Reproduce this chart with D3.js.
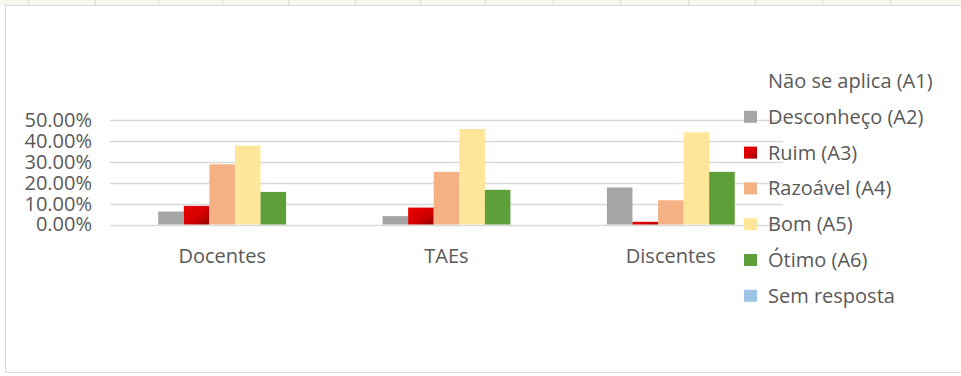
<!DOCTYPE html>
<html>
<head>
<meta charset="utf-8">
<script src="https://cdn.jsdelivr.net/npm/d3@7"></script>
<style>
	body { margin: 0; background: #fff; }
	svg { display: block; font-family: 'Open Sans', sans-serif; }
</style>
</head>
<body>
<div id="chart"></div>
<script>
// Data
let categories = ['Docentes', 'TAEs', 'Discentes'];
let series = ['Não se aplica (A1)', 'Desconheço (A2)', 'Ruim (A3)', 'Razoável (A4)', 'Bom (A5)', 'Ótimo (A6)', 'Sem resposta'];
let colors = ['#ffffff', '#a5a5a5', '#e00000', '#f4b183', '#ffe699', '#5f9f3a', '#9dc3e6'];
let values = [
	[0, 0.062, 0.089, 0.288, 0.377, 0.156, 0],
	[0, 0.040, 0.081, 0.252, 0.457, 0.166, 0],
	[0, 0.177, 0.013, 0.116, 0.441, 0.252, 0]
];
let yTicks = [0, 0.1, 0.2, 0.3, 0.4, 0.5];

let width = 961;
let height = 376;
let fontSize = 20;

let svg = d3.select('#chart')
	.append('svg')
	.attr('width', width)
	.attr('height', height);

// spreadsheet strip above the chart
svg.append('rect')
	.attr('x', 0).attr('y', 0)
	.attr('width', width).attr('height', 5)
	.attr('fill', '#f7f7ec');
let cols = [28, 95, 158, 222, 288, 355, 420, 485, 553, 620, 688, 755, 822, 890];
cols.forEach(function(c){
	svg.append('rect')
	   .attr('x', c).attr('y', 0)
	   .attr('width', 1).attr('height', 5)
	   .attr('fill', '#dcdcd0');
});

// chart frame
svg.append('rect')
	.attr('x', 5.5).attr('y', 5.5)
	.attr('width', width + 10).attr('height', 367)
	.attr('fill', '#fff')
	.attr('stroke', '#d9d9d9');

// red bar gradient
let defs = svg.append('defs');
let grad = defs.append('linearGradient')
	.attr('id', 'redGrad')
	.attr('x1', 0).attr('y1', 0).attr('x2', 1).attr('y2', 1);
grad.append('stop').attr('offset', '0%').attr('stop-color', '#ee0000');
grad.append('stop').attr('offset', '60%').attr('stop-color', '#d00000');
grad.append('stop').attr('offset', '100%').attr('stop-color', '#900000');

// Scales
// group of 7 bars, 179 px wide, centered in each 224 px step
let x0 = d3.scaleBand()
	.domain(categories)
	.range([110, 783]);
let groupW = 179;
let xs = d3.scaleBand()
	.domain(series)
	.range([0, groupW]);

let y = d3.scaleLinear()
	.domain([0, 0.5])
	.range([224.5, 120]);

// Gridlines
svg.append('g')
	.selectAll('line')
	.data(yTicks)
	.enter()
	.append('line')
	.attr('x1', 110)
	.attr('x2', 783)
	.attr('y1', d => Math.round(y(d)) + 0.5)
	.attr('y2', d => Math.round(y(d)) + 0.5)
	.attr('stroke', '#d9d9d9')
	.attr('stroke-width', 1.5);

// Y axis labels
let yAxis = d3.axisLeft(y)
	.tickValues(yTicks)
	.tickFormat(d3.format('.2%'))
	.tickSize(0)
	.tickPadding(0);
let ya = svg.append('g')
	.attr('transform', 'translate(92,0)')
	.call(yAxis);
ya.select('.domain').remove();
ya.selectAll('text')
	.attr('font-family', "'Open Sans', sans-serif")
	.attr('font-size', fontSize)
	.attr('fill', '#595959');

// Bars
let groups = svg.append('g')
	.selectAll('g')
	.data(values)
	.enter()
	.append('g')
	.attr('transform', (d, i) => 'translate(' + (x0(categories[i]) + (x0.bandwidth() - groupW) / 2) + ',0)');

groups.selectAll('rect')
	.data(d => d.map((v, j) => ({ v: v, j: j })))
	.enter()
	.filter(d => d.v > 0)
	.append('rect')
	.attr('x', d => xs(series[d.j]))
	.attr('width', xs.bandwidth())
	.attr('y', d => y(d.v))
	.attr('height', d => y(0) - y(d.v))
	.attr('fill', d => d.j === 2 ? 'url(#redGrad)' : colors[d.j]);

// X axis labels
let xAxis = d3.axisBottom(x0).tickSize(0).tickPadding(0);
let xa = svg.append('g')
	.attr('transform', 'translate(0,0)')
	.call(xAxis);
xa.select('.domain').remove();
xa.selectAll('text')
	.attr('y', 263)
	.attr('dy', null)
	.attr('font-family', "'Open Sans', sans-serif")
	.attr('font-size', fontSize)
	.attr('fill', '#595959');

// Legend
let legend = svg.append('g')
	.selectAll('g')
	.data(series)
	.enter()
	.append('g')
	.attr('transform', (d, i) => 'translate(744,' + (81 + i * 35.8) + ')');

legend.append('rect')
	.attr('x', 0)
	.attr('y', -6)
	.attr('width', 13)
	.attr('height', 12)
	.attr('fill', (d, i) => i === 2 ? 'url(#redGrad)' : colors[i]);

legend.append('text')
	.attr('x', 24)
	.attr('y', 7)
	.attr('font-size', fontSize)
	.attr('fill', '#595959')
	.text(d => d);
</script>
</body>
</html>
